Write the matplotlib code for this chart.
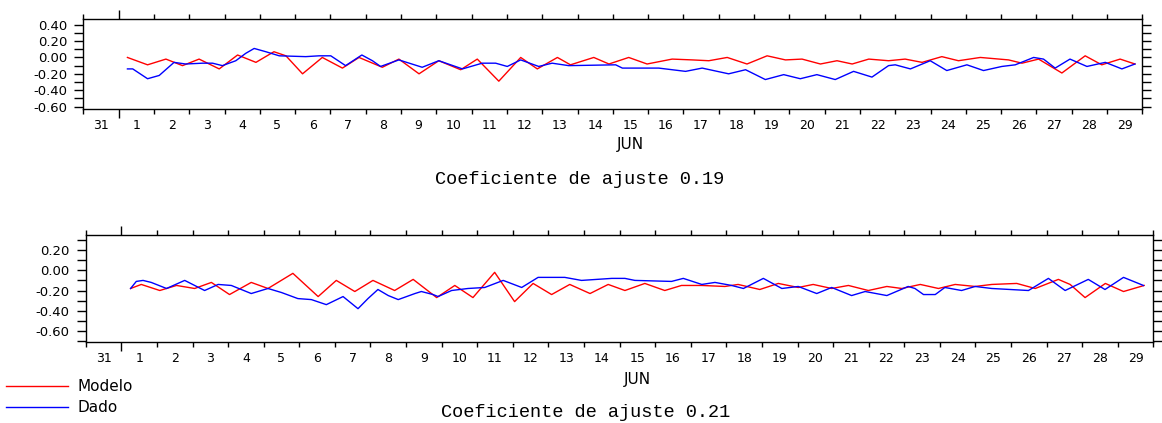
import numpy as np
import matplotlib
matplotlib.use("Agg")
import matplotlib.pyplot as plt

# time axis in "June day" units: 1.0 = 1 JUN 00h, 0.0 = 31 MAY 00h
# top panel
top_modelo_t = [1.25, 1.82, 2.34, 2.81, 3.28, 3.85, 4.37, 4.89, 5.40, 5.74,
                6.21, 6.77, 7.34, 7.81, 8.47, 8.94, 9.51, 10.07, 10.69, 11.16,
                11.77, 12.39, 12.86, 13.43, 13.80, 14.46, 14.89, 15.45, 15.97, 16.68,
                17.25, 17.72, 18.24, 18.80, 19.37, 19.89, 20.36, 20.88, 21.35, 21.78,
                22.25, 22.81, 23.28, 23.76, 24.32, 24.79, 25.41, 26.21, 26.59, 27.06,
                27.72, 28.38, 28.85, 29.37, 29.79]
top_modelo = [0.00, -0.09, -0.02, -0.10, -0.02, -0.14, 0.03, -0.06, 0.07, 0.02,
              -0.20, 0.00, -0.13, 0.00, -0.12, -0.02, -0.20, -0.04, -0.15, -0.02,
              -0.29, 0.00, -0.14, 0.00, -0.09, 0.00, -0.08, 0.00, -0.08, -0.02,
              -0.03, -0.04, 0.00, -0.08, 0.02, -0.03, -0.02, -0.08, -0.04, -0.08,
              -0.02, -0.04, -0.02, -0.06, 0.01, -0.04, 0.00, -0.03, -0.07, -0.02,
              -0.19, 0.02, -0.09, -0.02, -0.08]

top_dado_t = [1.25, 1.40, 1.82, 2.15, 2.57, 2.90, 3.38, 3.66, 3.94, 4.32,
              4.60, 4.84, 5.17, 5.55, 6.30, 6.68, 7.01, 7.43, 7.89, 8.19,
              8.42, 8.94, 9.60, 10.07, 10.74, 11.30, 11.68, 12.01, 12.39, 12.90,
              13.28, 13.75, 15.08, 15.27, 16.30, 17.06, 17.53, 18.28, 18.76, 19.32,
              19.84, 20.31, 20.78, 21.30, 21.82, 22.34, 22.81, 23.00, 23.43, 23.99,
              24.46, 25.03, 25.50, 26.02, 26.40, 26.92, 27.20, 27.53, 27.95, 28.43,
              28.95, 29.42, 29.79]
top_dado = [-0.14, -0.14, -0.26, -0.22, -0.06, -0.08, -0.07, -0.07, -0.10, -0.04,
            0.05, 0.11, 0.07, 0.02, 0.01, 0.02, 0.02, -0.10, 0.03, -0.04,
            -0.11, -0.03, -0.12, -0.04, -0.14, -0.07, -0.07, -0.11, -0.03, -0.11,
            -0.07, -0.10, -0.09, -0.13, -0.13, -0.17, -0.13, -0.20, -0.15, -0.27,
            -0.21, -0.26, -0.21, -0.27, -0.17, -0.24, -0.10, -0.09, -0.14, -0.04,
            -0.16, -0.09, -0.16, -0.11, -0.09, 0.00, -0.02, -0.13, -0.02, -0.11,
            -0.06, -0.14, -0.08]

# bottom panel
bot_modelo_t = [1.26, 1.56, 2.08, 2.55, 3.06, 3.53, 4.04, 4.65, 5.12, 5.82,
                6.53, 7.04, 7.56, 8.07, 8.68, 9.20, 9.86, 10.37, 10.88, 11.49,
                12.05, 12.57, 13.09, 13.60, 14.17, 14.68, 15.15, 15.71, 16.27, 16.74,
                17.31, 17.96, 18.33, 18.94, 19.46, 20.02, 20.44, 20.96, 21.43, 21.99,
                22.51, 22.93, 23.45, 23.96, 24.43, 24.99, 25.46, 26.16, 26.68, 27.33,
                27.66, 28.08, 28.65, 29.16, 29.74]
bot_modelo = [-0.18, -0.14, -0.20, -0.15, -0.18, -0.12, -0.24, -0.12, -0.18, -0.03,
              -0.26, -0.10, -0.21, -0.10, -0.20, -0.09, -0.27, -0.15, -0.27, -0.02,
              -0.31, -0.13, -0.24, -0.14, -0.23, -0.14, -0.20, -0.13, -0.20, -0.15,
              -0.15, -0.16, -0.14, -0.19, -0.13, -0.17, -0.14, -0.18, -0.15, -0.20,
              -0.16, -0.18, -0.14, -0.18, -0.14, -0.16, -0.14, -0.13, -0.18, -0.09,
              -0.14, -0.27, -0.13, -0.21, -0.15]

bot_dado_t = [1.26, 1.42, 1.61, 1.84, 2.27, 2.78, 3.34, 3.72, 4.09, 4.65,
              5.12, 5.50, 5.96, 6.34, 6.76, 7.23, 7.65, 7.93, 8.21, 8.50,
              8.78, 9.25, 9.43, 9.76, 9.90, 10.28, 10.74, 11.21, 11.73, 12.25,
              12.71, 13.46, 13.93, 14.78, 15.15, 15.43, 16.46, 16.79, 17.31, 17.68,
              18.15, 18.48, 19.04, 19.56, 20.02, 20.54, 20.96, 21.52, 21.90, 22.51,
              23.11, 23.30, 23.54, 23.87, 24.14, 24.61, 24.99, 25.46, 26.49, 27.05,
              27.52, 28.17, 28.64, 29.16, 29.72]
bot_dado = [-0.18, -0.11, -0.10, -0.12, -0.18, -0.10, -0.20, -0.14, -0.15, -0.23,
            -0.18, -0.22, -0.28, -0.29, -0.34, -0.26, -0.38, -0.28, -0.19, -0.25,
            -0.29, -0.23, -0.21, -0.24, -0.26, -0.20, -0.18, -0.17, -0.10, -0.17,
            -0.07, -0.07, -0.10, -0.08, -0.08, -0.10, -0.11, -0.08, -0.14, -0.12,
            -0.15, -0.18, -0.08, -0.18, -0.16, -0.23, -0.17, -0.25, -0.21, -0.25,
            -0.16, -0.18, -0.24, -0.24, -0.17, -0.20, -0.16, -0.18, -0.20, -0.08,
            -0.20, -0.09, -0.19, -0.07, -0.15]

day_labels = ['31'] + [str(d) for d in range(1, 30)]
titles = ['Coeficiente de ajuste 0.19', 'Coeficiente de ajuste 0.21']

fig = plt.figure(figsize=(11.62, 4.23), dpi=100)
ax1 = fig.add_axes([0.0717, 0.7423, 0.9114, 0.2128])
ax2 = fig.add_axes([0.0738, 0.1915, 0.9188, 0.2530])


def style_axis(ax, ylim):
    # day boundaries -> short ticks, day centers -> labels
    ax.set_xticks(np.arange(0, 31))
    ax.set_xticklabels([])
    ax.set_xticks(np.arange(0.5, 30), minor=True)
    ax.set_xticklabels(day_labels, minor=True, fontsize=9)
    ax.tick_params(axis='x', which='major', direction='out', length=3.6,
                   width=1.0, top=True, bottom=True)
    ax.tick_params(axis='x', which='minor', length=0, pad=7)
    yt = np.round(np.arange(-0.6, 0.41, 0.2), 2)
    ymin = np.round(np.arange(-0.7, 0.41, 0.1), 2)
    ax.set_yticks(yt[(yt >= ylim[0]) & (yt <= ylim[1])])
    ax.set_yticks(ymin[(ymin >= ylim[0]) & (ymin <= ylim[1])], minor=True)
    ax.yaxis.set_major_formatter(matplotlib.ticker.FormatStrFormatter('%.2f'))
    ax.tick_params(axis='y', which='both', direction='out', length=6.5,
                   width=1.0, left=True, right=True, labelsize=9.5, pad=5)
    # limits after the ticks so they are not widened
    ax.set_xlim(0, 30)
    ax.set_ylim(*ylim)
    for sp in ax.spines.values():
        sp.set_linewidth(1.0)
    # month boundary (1 JUN) gets a longer tick
    t1 = ax.xaxis.get_major_ticks()[1]
    t1.tick1line.set_markersize(6.5)
    t1.tick2line.set_markersize(6.5)


l_mod, = ax1.plot(top_modelo_t, top_modelo, color='red', lw=1.0)
l_dad, = ax1.plot(top_dado_t, top_dado, color='blue', lw=1.0)
ax2.plot(bot_modelo_t, bot_modelo, color='red', lw=1.0)
ax2.plot(bot_dado_t, bot_dado, color='blue', lw=1.0)

style_axis(ax1, (-0.63, 0.47))
style_axis(ax2, (-0.71, 0.35))

fig.text(630 / 1162, 1 - 145 / 423, 'JUN', fontsize=11, ha='center', va='center')
fig.text(637 / 1162, 1 - 379 / 423, 'JUN', fontsize=11, ha='center', va='center')
fig.text(580 / 1162, 1 - 179 / 423, titles[0], family='Liberation Mono',
         fontsize=13.4, ha='center', va='center')
fig.text(586 / 1162, 1 - 412 / 423, titles[1], family='Liberation Mono',
         fontsize=13.4, ha='center', va='center')

fig.legend([l_mod, l_dad], ['Modelo', 'Dado'], loc='upper left',
           bbox_to_anchor=(6 / 1162, 1 - 379 / 423), frameon=False,
           fontsize=11, handlelength=4.05, handletextpad=0.6,
           labelspacing=0.4, borderpad=0, borderaxespad=0)

fig.savefig('out.png', dpi=100)
